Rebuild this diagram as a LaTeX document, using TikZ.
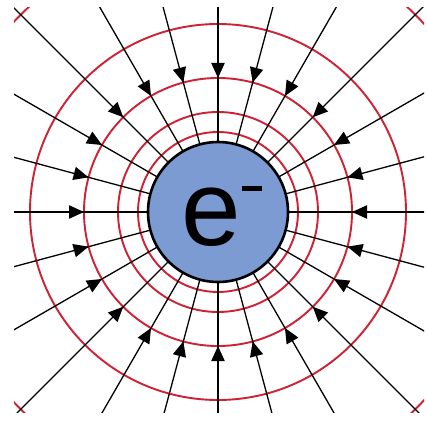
\documentclass[tikz,border=0pt]{standalone}
\usepackage{fontspec}
\setmainfont{Liberation Sans}
\usetikzlibrary{arrows.meta,calc}
\definecolor{eqred}{RGB}{208,32,52}
\definecolor{eblue}{RGB}{124,155,210}
\tikzset{
  fieldline/.style={line width=1.3pt, black},
  fieldarrow/.style={draw=none, fill=black},
  equipot/.style={line width=1.9pt, eqred},
  electron/.style={circle, draw=black, line width=2.6pt, fill=eblue, minimum size=140pt, inner sep=0pt},
  minusbar/.style={fill=black, draw=none, minimum width=20.5pt, minimum height=5.5pt, inner sep=0pt, rectangle},
}
\begin{document}
\begin{tikzpicture}[x=1pt,y=-1pt]
\useasboundingbox (0,0) rectangle (428,425);
\fill[white] (0,0) rectangle (428,425);
\coordinate (c) at (218,212);
\begin{scope}
\clip (14,8) rectangle (424,412);
\foreach \r in {80,100,134,188,279}
  \draw[equipot] (c) circle[radius=\r];
\foreach \a in {0,15,...,345}{
  \draw[fieldline] ($(c)+(\a:70)$) -- ($(c)+(\a:420)$);
}
\end{scope}
\foreach \a in {0,15,...,345}{
  \fill[fieldarrow] ($(c)+(\a:134)$) -- ($(c)+(\a:149)+(\a+90:6.8)$) -- ($(c)+(\a:149)+(\a-90:6.8)$) -- cycle;
}
\node[electron] (e) at (c) {};
\node[inner sep=0pt, font=\fontsize{107}{107}\selectfont] (etext) at (211,217.5) {e};
\node[minusbar] (minus) at (252,188.5) {};
\end{tikzpicture}
\end{document}
